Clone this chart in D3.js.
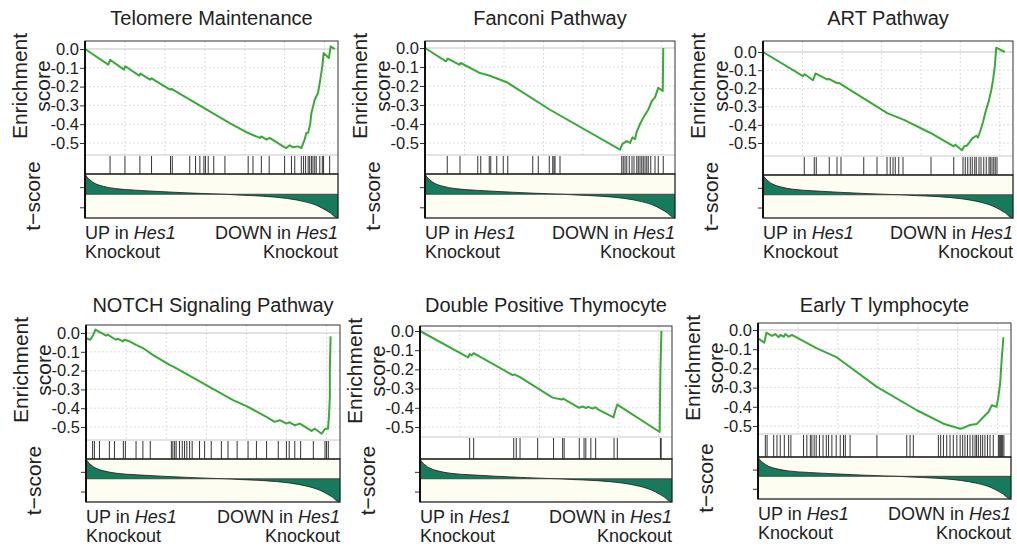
<!DOCTYPE html>
<html lang="en">
<head>
<meta charset="UTF-8">
<script src="https://d3js.org/d3.v7.min.js"></script>
<style>
  body { margin: 0; background: #fff; }
  text { font-family: "Liberation Sans", Arial, sans-serif; fill: #222; }
</style>
</head>
<body>
<script>
// ---- data (rank in % of ranked list, enrichment score) ----
var titles = ["Telomere Maintenance", "Fanconi Pathway", "ART Pathway",
              "NOTCH Signaling Pathway", "Double Positive Thymocyte", "Early T lymphocyte"];

var esTicks = [0, -0.1, -0.2, -0.3, -0.4, -0.5];
var rankGrid = [15.8, 31.6, 47.4, 63.2, 78.9, 94.7];
var tTicks = [0.35, -0.55];

// ranked list metric (same list for every set), normalised so the extremes are +1 / -1
var tScore = [[0, 1], [0.8, 0.85], [2, 0.7], [4, 0.53], [7, 0.4], [12, 0.28], [20, 0.2], [30, 0.13],
              [40, 0.07], [50, 0.02], [55, 0], [60, -0.03], [70, -0.08], [80, -0.18], [87, -0.32],
              [92, -0.49], [95, -0.66], [97, -0.79], [98.5, -0.93], [100, -1]];

var telomereES = [[0, 0], [9.2, -0.083], [9.9, -0.057], [15.4, -0.11], [15.9, -0.092], [21.4, -0.142],
  [21.9, -0.131], [25.7, -0.163], [26.3, -0.156], [33.6, -0.216], [34.2, -0.212], [57.2, -0.394],
  [64.5, -0.447], [69.1, -0.473], [69.7, -0.465], [71.7, -0.482], [73, -0.473], [78.3, -0.518],
  [79.6, -0.527], [80.9, -0.512], [82.2, -0.523], [84.2, -0.518], [85.5, -0.527], [86.8, -0.482],
  [87.5, -0.447], [88.2, -0.445], [89, -0.40], [89.5, -0.34], [90.8, -0.27], [92.1, -0.234], [93, -0.163],
  [93.8, -0.092], [94.3, -0.021], [96.4, -0.048], [97.1, 0.014], [98.7, 0]];
var telomereHits = [9.9, 15.8, 21.7, 26.3, 33.8, 34.5, 41.4, 43.7, 45.4, 47, 47.6, 48.7, 50.9, 55.3,
  64.5, 66.4, 69.7, 72.8, 78.9, 81.6, 82.9, 85.5, 86.4, 87.2, 88.2, 88.8, 89.5, 90.1, 90.8, 91.4,
  92.8, 93.8, 94.3, 96.7];

var fanconiES = [[0, 0], [8.4, -0.07], [9.1, -0.056], [13.7, -0.088], [14.3, -0.079], [20.7, -0.123],
  [22, -0.132], [26, -0.146], [26.7, -0.15], [32.7, -0.18], [50, -0.325], [78, -0.535], [79, -0.505],
  [80.7, -0.49], [82, -0.5], [83, -0.47], [84, -0.48], [84.7, -0.44], [86, -0.40], [87.6, -0.36],
  [89.3, -0.325], [90.7, -0.28], [92, -0.26], [93.3, -0.21], [95.1, -0.226], [95.3, 0]];
var fanconiHits = [8.9, 14, 21.1, 22.3, 25.7, 26.3, 28.7, 31.3, 33.1, 43.1, 45.3, 49.7, 51.1, 51.6,
  52, 54, 78.7, 79.3, 80, 80.7, 81.7, 82.8, 83.6, 84.7, 85.3, 86, 86.7, 87.3, 88, 88.7, 89.3, 90.3,
  92, 93.3, 95.3];

var artES = [[0, 0], [16, -0.133], [16.7, -0.122], [20, -0.155], [21, -0.118], [25.6, -0.151],
  [26.4, -0.148], [29.3, -0.169], [30.7, -0.172], [32.4, -0.187], [49.7, -0.336], [56.4, -0.373],
  [67, -0.445], [76.3, -0.518], [76.9, -0.51], [79.6, -0.54], [80.5, -0.518], [81.5, -0.515],
  [82.4, -0.5], [83.7, -0.475], [85.3, -0.46], [86, -0.47], [87, -0.43], [88, -0.385], [89, -0.33],
  [90.3, -0.27], [91.3, -0.21], [92, -0.155], [92.7, -0.082], [93.3, 0.024], [96.7, 0]];
var artHits = [16.5, 20.5, 21.3, 26.5, 29.6, 31.2, 40.3, 45.6, 49.6, 50.9, 52, 52.9, 54.3, 56, 67.2,
  76.3, 80, 80.9, 81.9, 82.9, 83.7, 84.7, 85.3, 86.4, 87.2, 88.3, 89.3, 90.4, 90.9, 91.6, 92.3, 92.9, 93.6];

var notchES = [[0, -0.027], [1.7, -0.036], [2.9, -0.009], [3.7, 0.018], [7.9, -0.014], [8.5, -0.009],
  [11.8, -0.036], [12.4, -0.03], [14.5, -0.045], [15.1, -0.036], [16.5, -0.041], [18.4, -0.054],
  [19.7, -0.063], [22.4, -0.08], [26.3, -0.116], [32.9, -0.17], [34.2, -0.178], [57.9, -0.357],
  [63.2, -0.389], [71, -0.446], [74.3, -0.473], [76.3, -0.464], [78.9, -0.482], [80.2, -0.475],
  [82.2, -0.491], [84.2, -0.482], [88.8, -0.521], [90.1, -0.509], [92.8, -0.536], [94.1, -0.509],
  [95.3, -0.509], [95.7, -0.43], [96, -0.34], [96, -0.19], [96.3, -0.018]];
var notchHits = [2.6, 3.3, 5.3, 9.2, 11.2, 14.7, 15.5, 19.7, 22.4, 25.3, 33.6, 34.2, 34.9, 35.5, 36.8,
  37.9, 38.8, 39.7, 40.8, 41.8, 44.7, 46.7, 49.3, 53.3, 55.9, 59.5, 63.8, 67.1, 71.1, 75.7, 78.9, 80,
  82.2, 84.5, 89.5, 94.1, 94.7, 95.4];

var dpES = [[0, 0], [19.1, -0.138], [19.7, -0.12], [20.4, -0.127], [21.3, -0.115], [36.8, -0.23],
  [37.5, -0.226], [39.5, -0.239], [52.6, -0.347], [56.3, -0.357], [56.8, -0.352], [63.2, -0.4],
  [64.5, -0.393], [65.8, -0.401], [66.8, -0.395], [68.4, -0.404], [69.7, -0.397], [71, -0.411],
  [76.8, -0.45], [77.4, -0.418], [78.3, -0.383], [95.1, -0.526], [95.4, -0.204], [95.8, 0]];
var dpHits = [19.7, 21.3, 37.2, 38.2, 39.7, 46.7, 53, 56.6, 57.2, 63.2, 65.1, 65.8, 67.8, 69.7, 77,
  78.3, 95.4, 95.7];

var earlyTES = [[0, -0.044], [2.5, -0.066], [3.3, -0.014], [5.5, -0.031], [6.8, -0.021], [8.2, -0.038],
  [8.8, -0.026], [10.2, -0.035], [10.8, -0.021], [12.1, -0.035], [13.4, -0.026], [14.7, -0.035],
  [20.7, -0.078], [23.3, -0.096], [31.2, -0.143], [47, -0.296], [62.8, -0.418], [73.3, -0.488],
  [79.9, -0.514], [81.2, -0.51], [83.8, -0.495], [86.4, -0.49], [89.1, -0.453], [91.1, -0.427],
  [92.4, -0.392], [94.3, -0.40], [95, -0.348], [95.7, -0.279], [96.3, -0.157], [97, -0.038]];
var earlyTHits = [2.9, 3.6, 6.2, 7.5, 8.8, 10.4, 12.1, 13, 18, 19.3, 20.7, 21.3, 22.2, 23, 24.3, 25.7,
  27, 27.9, 29.2, 30.9, 32.5, 33.8, 34.5, 36.4, 47, 58.8, 60.1, 61.4, 71.3, 72.2, 73.3, 74.6, 75.9,
  77.2, 78.6, 79.9, 80.9, 81.8, 82.8, 83.8, 84.9, 85.8, 86.4, 87.1, 88, 88.8, 89.7, 90.7, 91.7, 93,
  95, 95.4, 95.9, 96.3, 96.7, 97.2];

var esSeries = [telomereES, fanconiES, artES, notchES, dpES, earlyTES];
var hitSeries = [telomereHits, fanconiHits, artHits, notchHits, dpHits, earlyTHits];

// ---- layout of the six panels (pixels) ----
var layout = [
  { x0: 85,  x1: 338,  top: 41,  y0: 49,  y5: 143, hitTop: 155, hitBot: 174, tBot: 218, titleY: 25 },
  { x0: 425, x1: 675,  top: 41,  y0: 48,  y5: 143, hitTop: 155, hitBot: 174, tBot: 218, titleY: 25 },
  { x0: 763, x1: 1013, top: 41,  y0: 52,  y5: 143, hitTop: 156, hitBot: 175, tBot: 218, titleY: 25 },
  { x0: 86,  x1: 340,  top: 325, y0: 333, y5: 427, hitTop: 440, hitBot: 459, tBot: 502, titleY: 312 },
  { x0: 420, x1: 672,  top: 326, y0: 331, y5: 427, hitTop: 437, hitBot: 459, tBot: 502, titleY: 312 },
  { x0: 758, x1: 1011, top: 323, y0: 330, y5: 426, hitTop: 434, hitBot: 457, tBot: 499, titleY: 312 }
];

var width = 1017, height = 546;
var svg = d3.select("body").append("svg")
    .attr("width", width)
    .attr("height", height);

var green = "#3ba83a";
var teal = "#177a5c";

layout.forEach(function (L, i) {
    var g = svg.append("g");
    var x = d3.scaleLinear().domain([0, 100]).range([L.x0, L.x1]);
    var y = d3.scaleLinear().domain([-0.5, 0]).range([L.y5, L.y0]);
    var tZero = L.hitBot + 0.46 * (L.tBot - L.hitBot);
    var t = d3.scaleLinear().domain([-1, 0, 1]).range([L.tBot, tZero, L.hitBot]);

    // background
    g.append("rect").attr("x", L.x0).attr("y", L.top)
        .attr("width", L.x1 - L.x0).attr("height", L.hitBot - L.top).attr("fill", "#fff");

    // grid
    g.selectAll(".hg").data(esTicks.filter(function (d) { return d !== 0; })).enter()
        .append("line")
        .attr("x1", L.x0).attr("x2", L.x1)
        .attr("y1", function (d) { return y(d); }).attr("y2", function (d) { return y(d); })
        .attr("stroke", "#dcdcdc").attr("stroke-dasharray", "2,2");
    g.selectAll(".vg").data(rankGrid).enter()
        .append("line")
        .attr("x1", function (d) { return x(d); }).attr("x2", function (d) { return x(d); })
        .attr("y1", L.top).attr("y2", L.hitTop)
        .attr("stroke", "#dcdcdc").attr("stroke-dasharray", "2,2");
    g.append("line").attr("x1", L.x0).attr("x2", L.x1)
        .attr("y1", y(0)).attr("y2", y(0))
        .attr("stroke", "#c4c4c4").attr("stroke-width", 1.2);

    // enrichment curve
    var line = d3.line()
        .x(function (d) { return x(d[0]); })
        .y(function (d) { return y(d[1]); });
    g.append("path").datum(esSeries[i])
        .attr("d", line)
        .attr("fill", "none")
        .attr("stroke", green)
        .attr("stroke-width", 2)
        .attr("stroke-linejoin", "round");

    // hit lines
    g.append("line").attr("x1", L.x0).attr("x2", L.x1)
        .attr("y1", L.hitTop).attr("y2", L.hitTop)
        .attr("stroke", "#c8c8c8");
    g.selectAll(".hit").data(hitSeries[i]).enter()
        .append("line")
        .attr("x1", function (d) { return x(d); }).attr("x2", function (d) { return x(d); })
        .attr("y1", L.hitTop + 1).attr("y2", L.hitBot)
        .attr("stroke", "#1e1e1e").attr("stroke-opacity", 0.9)
        .attr("stroke-width", 1);

    // t-score panel
    g.append("rect").attr("x", L.x0).attr("y", L.hitBot)
        .attr("width", L.x1 - L.x0).attr("height", L.tBot - L.hitBot)
        .attr("fill", "#fdfdf2");
    var area = d3.area()
        .x(function (d) { return x(d[0]); })
        .y0(tZero)
        .y1(function (d) { return t(d[1]); })
        .curve(d3.curveMonotoneX);
    g.append("path").datum(tScore)
        .attr("d", area)
        .attr("fill", teal);
    g.append("path").datum(tScore)
        .attr("d", area.lineY1())
        .attr("fill", "none")
        .attr("stroke", "#1a1a1a")
        .attr("stroke-width", 0.8);
    g.append("line").attr("x1", L.x0).attr("x2", L.x1)
        .attr("y1", tZero).attr("y2", tZero)
        .attr("stroke", "#333").attr("stroke-width", 0.8);

    // borders
    g.append("rect").attr("x", L.x0).attr("y", L.top)
        .attr("width", L.x1 - L.x0).attr("height", L.hitBot - L.top)
        .attr("fill", "none").attr("stroke", "#333").attr("stroke-width", 1);
    g.append("rect").attr("x", L.x0).attr("y", L.hitBot)
        .attr("width", L.x1 - L.x0).attr("height", L.tBot - L.hitBot)
        .attr("fill", "none").attr("stroke", "#222").attr("stroke-width", 1.3);
    g.append("line").attr("x1", L.x0).attr("x2", L.x0)
        .attr("y1", L.top).attr("y2", L.tBot)
        .attr("stroke", "#111").attr("stroke-width", 2);

    // axes
    var ax = g.append("g").attr("transform", "translate(" + (L.x0 - 1) + ",0)")
        .call(d3.axisLeft(y).tickValues(esTicks)
            .tickFormat(function (d) { return d.toFixed(1); })
            .tickSize(4).tickPadding(1));
    ax.select(".domain").remove();
    ax.selectAll("line").attr("stroke", "#333");
    ax.selectAll("text").style("font-size", "16.5px").attr("fill", "#222")
        .style("font-family", "'Liberation Sans', Arial, sans-serif");

    var tax = g.append("g").attr("transform", "translate(" + (L.x0 - 1) + ",0)")
        .call(d3.axisLeft(t).tickValues(tTicks).tickFormat("").tickSize(4));
    tax.select(".domain").remove();
    tax.selectAll("line").attr("stroke", "#333");

    // title
    g.append("text")
        .attr("x", (L.x0 + L.x1) / 2).attr("y", L.titleY)
        .attr("text-anchor", "middle")
        .style("font-size", "20px")
        .text(titles[i]);

    // y labels
    var esMid = L.top + 45;
    g.append("text")
        .attr("transform", "translate(" + (L.x0 - 58) + "," + esMid + ") rotate(-90)")
        .attr("text-anchor", "middle").style("font-size", "21px")
        .text("Enrichment");
    g.append("text")
        .attr("transform", "translate(" + (L.x0 - 35) + "," + esMid + ") rotate(-90)")
        .attr("text-anchor", "middle").style("font-size", "21px")
        .text("score");
    g.append("text")
        .attr("transform", "translate(" + (L.x0 - 45) + "," + ((L.hitBot + L.tBot) / 2) + ") rotate(-90)")
        .attr("text-anchor", "middle").style("font-size", "21px")
        .text("t\u2212score");

    // direction labels
    var up = g.append("text").attr("x", L.x0).attr("y", L.tBot + 21).style("font-size", "18px");
    up.append("tspan").text("UP in ");
    up.append("tspan").style("font-style", "italic").text("Hes1");
    g.append("text").attr("x", L.x0).attr("y", L.tBot + 40).style("font-size", "18px").text("Knockout");
    var down = g.append("text").attr("x", L.x1).attr("y", L.tBot + 21)
        .attr("text-anchor", "end").style("font-size", "18px");
    down.append("tspan").text("DOWN in ");
    down.append("tspan").style("font-style", "italic").text("Hes1");
    g.append("text").attr("x", L.x1).attr("y", L.tBot + 40)
        .attr("text-anchor", "end").style("font-size", "18px").text("Knockout");
});
</script>
</body>
</html>
